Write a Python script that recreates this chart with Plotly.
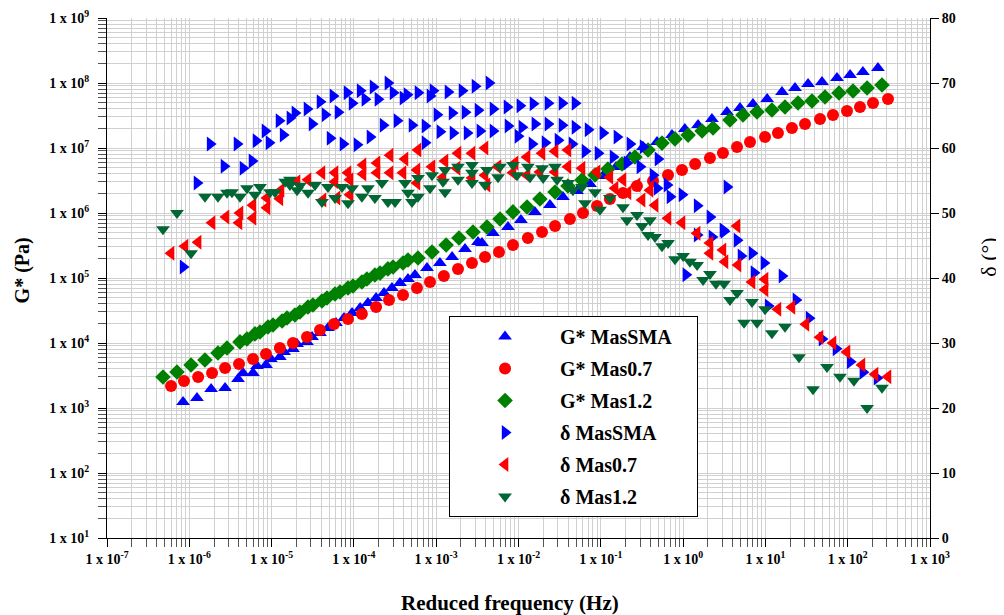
import plotly.graph_objects as go

# ---------------- G* (Pa) versus reduced frequency (Hz) ----------------
f_gs_sma = [8.4e-7, 1.24e-6, 1.84e-6, 2.72e-6, 3.91e-6, 4.49e-6, 5.94e-6, 6.65e-6, 8.55e-6, 9.8e-6,
            1.26e-5, 1.42e-5, 1.82e-5, 2.04e-5, 2.69e-5, 3.1e-5, 3.87e-5, 4.84e-5, 6.06e-5, 7.58e-5,
            9.5e-5, 1.19e-4, 1.48e-4, 1.86e-4, 2.32e-4, 2.90e-4, 3.63e-4, 4.54e-4, 5.52e-4, 7.73e-4,
            1.11e-3, 1.56e-3, 2.24e-3, 3.22e-3, 3.6e-3, 4.9e-3, 7.45e-3, 1.07e-2, 1.58e-2, 2.41e-2,
            3.47e-2, 5.14e-2, 7.39e-2, 1.06e-1, 1.53e-1, 2.26e-1, 3.26e-1, 4.82e-1, 7.33e-1, 1.05,
            1.52, 2.24, 3.41, 4.91, 7.06, 10.5, 15.9, 22.9, 33.0, 48.7,
            74.1, 107, 153, 233]
g_gs_sma = [1.24e3, 1.43e3, 1.96e3, 2.03e3, 2.79e3, 3.45e3, 3.45e3, 4.43e3, 4.59e3, 5.67e3,
            6.09e3, 7.27e3, 8.09e3, 9.66e3, 1.04e4, 1.24e4, 1.43e4, 1.70e4, 2.03e4, 2.42e4,
            2.89e4, 3.45e4, 4.12e4, 4.92e4, 5.88e4, 7.02e4, 8.38e4, 9.66e4, 1.11e5, 1.43e5,
            1.70e5, 2.10e5, 2.79e5, 3.58e5, 3.45e5, 4.92e5, 6.09e5, 7.8e5, 1.04e6, 1.33e6,
            1.76e6, 2.18e6, 2.79e6, 3.71e6, 5.1e6, 7.27e6, 1.04e7, 1.24e7, 1.58e7, 1.96e7,
            2.26e7, 2.79e7, 3.58e7, 4.12e7, 4.75e7, 5.67e7, 7.27e7, 8.38e7, 9.66e7, 1.04e8,
            1.19e8, 1.33e8, 1.48e8, 1.70e8]

f_gs_07 = [6.0e-7, 8.62e-7, 1.28e-6, 1.89e-6, 2.72e-6, 4.02e-6, 5.94e-6, 8.55e-6, 1.26e-5, 1.82e-5,
           2.69e-5, 3.87e-5, 5.73e-5, 8.48e-5, 1.25e-4, 1.86e-4, 2.67e-4, 3.95e-4, 5.84e-4, 8.41e-4,
           1.24e-3, 1.84e-3, 2.72e-3, 3.92e-3, 5.79e-3, 8.57e-3, 1.30e-2, 1.93e-2, 2.78e-2, 4.22e-2,
           6.08e-2, 9.0e-2, 1.29e-1, 1.86e-1, 2.75e-1, 4.31e-1, 6.56e-1, 9.7e-1, 1.40, 2.12,
           3.05, 4.52, 6.5, 9.9, 14.2, 21.0, 30.3, 46.1, 66.3, 98,
           141, 203, 309]
g_gs_07 = [2.18e3, 2.60e3, 3.0e3, 3.45e3, 4.12e3, 4.75e3, 5.67e3, 6.77e3, 8.38e3, 1.0e4,
           1.24e4, 1.58e4, 1.96e4, 2.34e4, 2.79e4, 3.58e4, 4.59e4, 5.47e4, 7.02e4, 8.67e4,
           1.07e5, 1.38e5, 1.70e5, 2.10e5, 2.51e5, 3.22e5, 4.12e5, 5.1e5, 6.31e5, 8.09e5,
           1.0e6, 1.28e6, 1.64e6, 2.03e6, 2.60e6, 3.11e6, 3.84e6, 4.59e6, 5.67e6, 7.02e6,
           8.38e6, 1.04e7, 1.24e7, 1.48e7, 1.70e7, 2.03e7, 2.34e7, 2.79e7, 3.22e7, 3.71e7,
           4.27e7, 4.92e7, 5.67e7]

f_gs_12 = [4.79e-7, 7.09e-7, 1.05e-6, 1.55e-6, 2.23e-6, 2.87e-6, 4.13e-6, 5.02e-6, 6.28e-6, 7.23e-6,
           9.04e-6, 1.04e-5, 1.34e-5, 1.54e-5, 1.92e-5, 2.21e-5, 2.77e-5, 3.18e-5, 4.09e-5, 4.71e-5,
           5.89e-5, 6.78e-5, 8.48e-5, 9.75e-5, 1.25e-4, 1.44e-4, 1.80e-4, 2.08e-4, 2.59e-4, 2.99e-4,
           3.95e-4, 4.54e-4, 6.01e-4, 8.89e-4, 1.32e-3, 1.89e-3, 2.80e-3, 4.14e-3, 5.96e-3, 8.57e-3,
           1.27e-2, 1.82e-2, 2.78e-2, 3.99e-2, 5.91e-2, 8.51e-2, 1.22e-1, 1.81e-1, 2.60e-1, 3.75e-1,
           5.54e-1, 7.97e-1, 1.15, 1.70, 2.31, 3.71, 5.34, 7.91, 12.0, 17.3,
           24.9, 36.8, 53.0, 78.4, 116, 172, 261]
g_gs_12 = [3.0e3, 3.58e3, 4.59e3, 5.47e3, 7.02e3, 8.38e3, 1.04e4, 1.15e4, 1.38e4, 1.48e4,
           1.76e4, 1.89e4, 2.18e4, 2.42e4, 2.70e4, 3.0e4, 3.58e4, 3.84e4, 4.43e4, 4.92e4,
           5.67e4, 6.09e4, 7.02e4, 7.53e4, 8.67e4, 9.66e4, 1.11e5, 1.19e5, 1.38e5, 1.48e5,
           1.70e5, 1.89e5, 2.03e5, 2.51e5, 3.22e5, 4.12e5, 5.1e5, 6.09e5, 8.09e5, 1.04e6,
           1.24e6, 1.64e6, 2.10e6, 2.60e6, 3.22e6, 3.84e6, 4.75e6, 5.67e6, 7.27e6, 9.31e6,
           1.19e7, 1.38e7, 1.58e7, 1.83e7, 2.03e7, 2.70e7, 3.22e7, 3.58e7, 3.84e7, 4.27e7,
           4.92e7, 5.28e7, 6.09e7, 7.02e7, 7.53e7, 8.38e7, 9.31e7]

# ---------------- phase angle delta (deg) versus reduced frequency (Hz) ----------------
f_d_sma = [8.4e-7, 1.24e-6, 1.79e-6, 2.64e-6, 3.80e-6, 4.49e-6, 5.78e-6, 6.46e-6, 8.32e-6, 9.3e-6,
           1.23e-5, 1.38e-5, 1.67e-5, 1.92e-5, 2.69e-5, 3.1e-5, 3.87e-5, 4.46e-5, 5.57e-5, 6.41e-5,
           8.24e-5, 9.5e-5, 1.19e-4, 1.36e-4, 1.71e-4, 1.96e-4, 2.59e-4, 2.99e-4, 3.95e-4, 4.42e-4,
           6.01e-4, 8.41e-4, 9.14e-4, 1.39e-3, 2.06e-3, 2.96e-3, 4.38e-3,
           5.13e-5, 7.37e-5, 1.09e-4, 1.57e-4, 2.26e-4, 3.34e-4, 5.08e-4, 7.31e-4, 7.31e-4,
           1.02e-3, 1.56e-3, 2.24e-3, 3.22e-3, 4.9e-3, 7.25e-3, 1.04e-2, 1.50e-2, 2.28e-2, 3.38e-2, 4.86e-2,
           1.11e-3, 1.60e-3, 2.37e-3, 3.40e-3, 4.9e-3, 7.45e-3, 1.10e-2, 1.58e-2, 2.28e-2, 3.38e-2,
           4.86e-2, 7.0e-2, 1.06e-1, 1.57e-1, 2.26e-1,
           9.86e-3, 1.46e-2, 2.10e-2, 3.02e-2, 4.47e-2, 6.43e-2, 9.25e-2, 1.41e-1, 2.08e-1, 2.99e-1,
           4.31e-1, 6.37e-1, 3.26e-1, 4.95e-1, 4.82e-1, 6.93e-1, 9.7e-1, 1.48, 2.12, 3.05,
           4.52, 1.48, 2.24, 3.14, 5.05, 6.87, 7.27, 9.6, 15.9, 10.8,
           23.5, 33.9, 48.7, 72.1, 107, 153, 227, 1.08, 3.41]
d_sma = [41.7, 54.6, 60.6, 57.2, 60.6, 56.9, 58.0, 61.1, 62.6, 60.8,
         64.2, 62.0, 64.6, 65.4, 66.0, 63.7, 67.1, 65.1, 68.0, 65.5,
         68.5, 66.9, 68.8, 67.5, 69.4, 67.5, 70.0, 68.5, 67.7, 68.2,
         68.5, 68.0, 68.8, 68.6, 68.8, 69.5, 70.0,
         61.5, 60.6, 60.5, 61.7, 63.5, 64.2, 63.5, 63.4, 60.8,
         65.1, 65.4, 65.5, 65.8, 66.0, 66.3, 66.5, 66.8, 66.9, 66.9, 66.9,
         62.5, 62.3, 62.3, 62.6, 62.6, 63.4, 63.2, 63.7, 63.7, 63.5,
         63.2, 62.8, 62.3, 61.7, 60.6,
         61.8, 60.6, 60.8, 61.2, 60.6, 59.5, 59.2, 58.6, 57.7, 57.1,
         55.8, 54.3, 60.2, 58.3, 53.8, 52.5, 52.8, 51.1, 49.4, 47.4,
         45.8, 46.6, 46.3, 47.2, 43.4, 43.8, 40.8, 42.3, 40.3, 35.7,
         36.6, 33.8, 30.6, 29.1, 27.1, 25.5, 24.6, 40.5, 54.0]

f_d_07 = [6.0e-7, 8.87e-7, 1.28e-6, 1.89e-6, 2.79e-6, 4.02e-6, 4.13e-6, 5.94e-6, 5.94e-6, 8.79e-6,
          8.79e-6, 1.26e-5, 1.30e-5, 2.04e-5, 2.77e-5, 4.09e-5, 5.89e-5, 8.48e-5, 1.29e-4, 1.91e-4,
          2.75e-4, 4.18e-4, 6.01e-4, 4.21e-5, 6.23e-5, 8.97e-5, 5.89e-5, 8.97e-5, 1.29e-4, 1.91e-4,
          2.75e-4, 3.95e-4, 5.84e-4, 5.84e-4, 8.89e-4, 1.21e-3, 1.28e-3, 1.84e-3, 2.72e-3, 3.92e-3,
          1.79e-3, 2.72e-3, 4.14e-3, 3.92e-3, 5.64e-3, 8.57e-3, 9.07e-3, 1.27e-2, 1.27e-2, 1.82e-2,
          1.93e-2, 2.78e-2, 2.78e-2, 3.99e-2, 3.99e-2, 5.91e-2, 9.0e-2, 1.29e-1, 1.86e-1, 2.75e-1,
          3.96e-1, 1.49e-1, 2.14e-1, 3.17e-1, 4.56e-1, 6.56e-1, 9.7e-1, 1.48, 2.12, 3.05,
          4.52, 2.12, 3.23, 4.65, 6.87, 9.9, 9.9, 14.2, 21.0, 31.1,
          46.1, 66.3, 98, 149, 215, 309]
d_07 = [43.8, 44.9, 45.5, 48.5, 49.4, 48.5, 50.0, 49.2, 51.2, 50.8,
        52.3, 52.2, 53.5, 54.8, 55.1, 56.2, 56.2, 56.2, 57.4, 57.7,
        58.9, 58.3, 59.7, 52.0, 52.3, 52.8, 54.8, 55.1, 56.0, 56.2,
        56.2, 56.2, 56.6, 54.6, 57.1, 55.5, 58.0, 59.2, 59.2, 60.0,
        56.9, 55.4, 54.3, 55.8, 57.1, 56.2, 57.7, 58.6, 55.8, 56.3,
        59.2, 59.5, 56.3, 59.7, 57.1, 56.9, 56.3, 55.5, 55.1, 54.3,
        53.5, 53.8, 53.1, 52.0, 51.2, 49.2, 48.5, 46.9, 45.4, 44.3,
        48.0, 43.8, 42.5, 42.0, 39.4, 39.8, 38.2, 35.2, 35.5, 32.9,
        30.9, 30.0, 28.6, 26.6, 25.2, 24.8]

f_d_12 = [4.79e-7, 7.09e-7, 1.05e-6, 1.55e-6, 2.23e-6, 2.87e-6, 3.30e-6, 4.13e-6, 5.02e-6, 6.28e-6,
          7.23e-6, 9.57e-6, 1.10e-5, 1.46e-5, 1.67e-5, 1.67e-5, 2.04e-5, 2.21e-5, 2.77e-5, 3.37e-5,
          4.09e-5, 4.84e-5, 5.89e-5, 7.17e-5, 8.48e-5, 9.5e-5, 1.25e-4, 1.48e-4, 1.80e-4, 2.19e-4,
          2.59e-4, 3.16e-4, 4.18e-4, 4.54e-4, 5.08e-4, 6.01e-4, 6.01e-4, 8.41e-4, 8.89e-4, 1.21e-3,
          1.28e-3, 1.28e-3, 1.84e-3, 1.84e-3, 2.72e-3, 2.72e-3, 2.72e-3, 4.14e-3, 3.92e-3, 5.96e-3,
          5.64e-3, 8.57e-3, 9.6e-3, 1.30e-2, 1.38e-2, 1.93e-2, 1.99e-2, 2.78e-2, 2.94e-2, 3.99e-2,
          4.59e-2, 5.91e-2, 6.43e-2, 8.51e-2, 9.78e-2, 1.29e-1, 1.86e-1, 2.08e-1, 2.75e-1, 3.17e-1,
          3.75e-1, 3.96e-1, 4.56e-1, 5.54e-1, 6.56e-1, 7.97e-1, 1.0, 1.21, 1.48, 1.75,
          2.12, 2.51, 3.14, 3.71, 4.52, 5.5, 6.87, 7.91, 9.9, 12.0,
          17.3, 25.6, 37.9, 56.0, 80.5, 119, 172, 261]
d_12 = [47.5, 50.0, 43.8, 52.5, 52.5, 53.1, 53.2, 52.5, 53.8, 52.8,
        54.0, 53.2, 53.2, 54.8, 54.3, 55.1, 53.5, 54.2, 53.1, 54.3,
        51.7, 54.0, 52.3, 54.0, 51.5, 53.8, 52.5, 53.8, 52.3, 54.6,
        51.7, 51.7, 54.6, 53.1, 51.7, 55.4, 52.5, 53.8, 55.8, 54.8,
        56.6, 53.2, 57.1, 55.1, 57.4, 56.2, 54.6, 56.6, 54.3, 57.1,
        55.5, 57.4, 55.8, 57.1, 55.5, 56.9, 55.4, 57.1, 55.1, 54.6,
        53.5, 54.0, 51.5, 53.2, 50.5, 52.3, 50.9, 48.9, 49.7, 48.0,
        46.6, 48.9, 46.3, 44.9, 45.4, 42.9, 43.4, 42.5, 42.0, 39.7,
        40.6, 39.1, 39.1, 36.6, 37.7, 33.1, 36.3, 33.1, 35.2, 31.5,
        32.5, 27.8, 22.9, 26.3, 24.8, 24.2, 20.0, 23.1]

# ---------------- axis tick labels ----------------
x_exponents = [-7, -6, -5, -4, -3, -2, -1, 0, 1, 2, 3]
y_exponents = [1, 2, 3, 4, 5, 6, 7, 8, 9]
delta_ticks = [0, 10, 20, 30, 40, 50, 60, 70, 80]

FONT = "Liberation Serif"
BLUE = "#0000ff"
RED = "#ff0000"
GREEN = "#008000"
DKGREEN = "#006633"
NB = "\u00a0"

fig = go.Figure()

series = [
    ("G* MasSMA" + NB * 4, f_gs_sma, g_gs_sma, "triangle-up", BLUE, 12, "y"),
    ("G* Mas0.7", f_gs_07, g_gs_07, "circle", RED, 12, "y"),
    ("G* Mas1.2", f_gs_12, g_gs_12, "diamond", GREEN, 12, "y"),
    ("δ MasSMA", f_d_sma, d_sma, "triangle-right", BLUE, 13, "y2"),
    ("δ Mas0.7", f_d_07, d_07, "triangle-left", RED, 13, "y2"),
    ("δ Mas1.2", f_d_12, d_12, "triangle-down", DKGREEN, 12, "y2"),
]
for i, (name, xs, ys, sym, col, sz, ax) in enumerate(series):
    fig.add_trace(go.Scatter(
        x=xs, y=ys, mode="markers", name=name, yaxis=ax, legendgroup=f"g{i}",
        marker=dict(symbol=sym, color=col, size=sz, line=dict(width=0)),
    ))

minor_x = [m * 10.0 ** e for e in range(-7, 3) for m in range(2, 10)]
minor_y = [m * 10.0 ** e for e in range(1, 9) for m in range(2, 10)]
GRID = "#d0d0d0"
tickfont = dict(family=FONT, size=14, color="black", weight="bold")

fig.update_layout(
    width=996, height=607,
    margin=dict(l=99, r=74, t=10, b=77, autoexpand=False),
    paper_bgcolor="white", plot_bgcolor="white",
    showlegend=True,
    legend=dict(
        x=0.4156, y=0.427, xanchor="left", yanchor="top",
        bgcolor="white", bordercolor="black", borderwidth=1,
        font=dict(family=FONT, size=20, color="black", weight="bold"),
        itemwidth=100, tracegroupgap=3,
    ),
    xaxis=dict(
        type="log", range=[-7, 3], automargin=False,
        tickmode="array",
        tickvals=[10.0 ** e for e in x_exponents],
        ticktext=[f"1 x 10<sup>{e}</sup>" for e in x_exponents],
        tickfont=tickfont, ticks="outside", ticklen=8, tickcolor="black",
        showline=True, linecolor="black", linewidth=1,
        showgrid=True, gridcolor=GRID, gridwidth=1, zeroline=False,
        minor=dict(tickmode="array", tickvals=minor_x, ticks="outside", ticklen=8,
                   tickcolor="#555555", showgrid=True, gridcolor=GRID, gridwidth=1),
    ),
    yaxis=dict(
        type="log", range=[1, 9], automargin=False,
        tickmode="array",
        tickvals=[10.0 ** e for e in y_exponents],
        ticktext=[f"1 x 10<sup>{e}</sup>" for e in y_exponents],
        tickfont=tickfont, ticks="outside", ticklen=8, tickcolor="black",
        ticklabelstandoff=6,
        showline=True, linecolor="black", linewidth=1,
        showgrid=True, gridcolor=GRID, gridwidth=1, zeroline=False,
        minor=dict(tickmode="array", tickvals=minor_y, ticks="outside", ticklen=8,
                   tickcolor="#555555", showgrid=True, gridcolor=GRID, gridwidth=1),
    ),
    yaxis2=dict(
        overlaying="y", side="right", range=[0, 80], automargin=False,
        tickmode="array", tickvals=delta_ticks, ticktext=[str(v) for v in delta_ticks],
        tickfont=tickfont, ticks="outside", ticklen=8, tickcolor="black",
        showline=True, linecolor="black", linewidth=1,
        showgrid=False, zeroline=False,
    ),
    annotations=[
        dict(text="Reduced frequency (Hz)", xref="paper", yref="paper", x=0.49, y=-0.125,
             xanchor="center", yanchor="middle", showarrow=False,
             font=dict(family=FONT, size=21, color="black", weight="bold")),
        dict(text="G* (Pa)", xref="paper", yref="paper", x=-0.103, y=0.515,
             xanchor="center", yanchor="middle", showarrow=False, textangle=-90,
             font=dict(family=FONT, size=20, color="black", weight="bold")),
        dict(text="δ (°)", xref="paper", yref="paper", x=1.071, y=0.54,
             xanchor="center", yanchor="middle", showarrow=False, textangle=-90,
             font=dict(family=FONT, size=22, color="black")),
    ],
)

fig.write_html("out.html")
